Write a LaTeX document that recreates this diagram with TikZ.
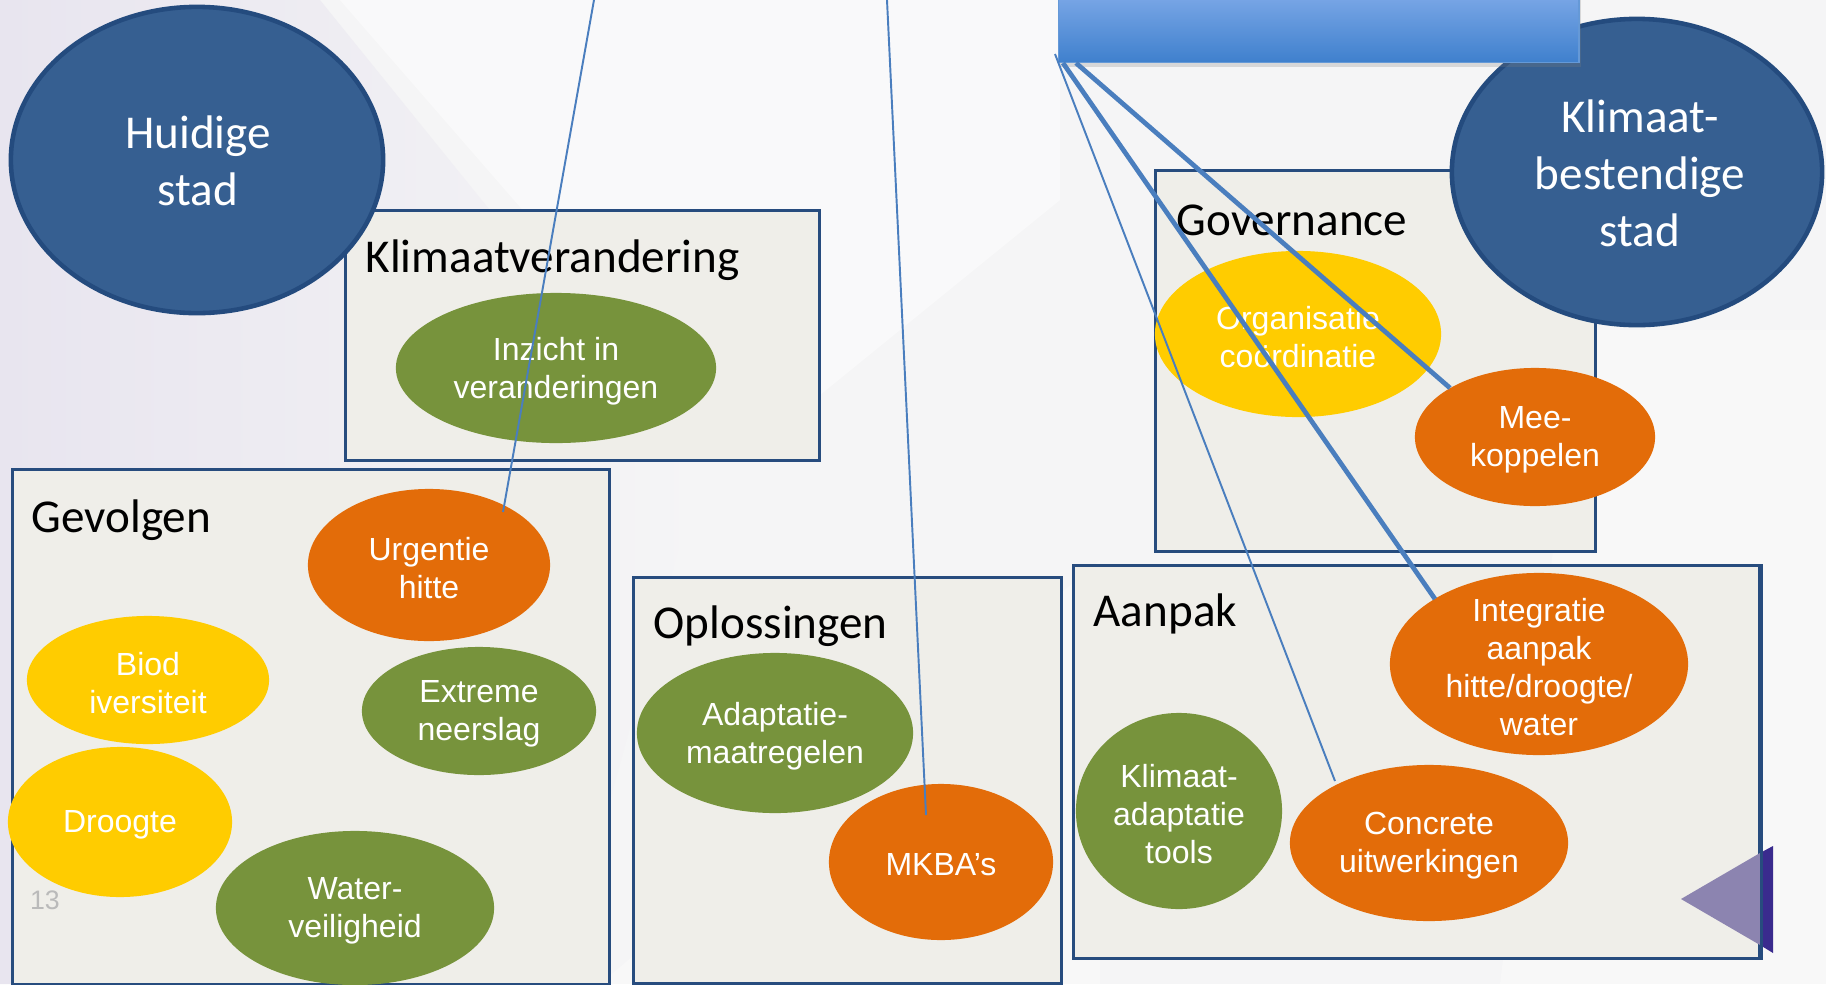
\documentclass[tikz,border=0pt]{standalone}
\usepackage{fontspec}
\setmainfont{Liberation Sans}
\newfontfamily\carl{Carlito}
\usetikzlibrary{shapes.geometric,calc,shadows}
\definecolor{bigblue}{HTML}{365F91}
\definecolor{bigedge}{HTML}{244B7E}
\definecolor{boxedge}{HTML}{274C7E}
\definecolor{boxfill}{HTML}{EFEEE9}
\definecolor{grn}{HTML}{77933C}
\definecolor{org}{HTML}{E36C09}
\definecolor{yel}{HTML}{FFCC00}
\definecolor{lnk}{HTML}{4A7EBE}
\definecolor{lav}{HTML}{E8E5EF}
\definecolor{pale}{HTML}{F5F5F6}
\definecolor{hdrtop}{HTML}{8EB4EF}
\definecolor{hdrbot}{HTML}{3F80CD}
\definecolor{tril}{HTML}{8C84B0}
\definecolor{trid}{HTML}{3A2B8E}
\tikzset{
  blob/.style 2 args={ellipse, inner sep=0pt, outer sep=0pt, minimum width=#1*0.02cm, minimum height=#2*0.02cm},
  lbl/.style={text=white, font=\fontsize{9.1}{10.8}\selectfont, align=center, inner sep=0pt, yshift=-0.03cm},
  biglbl/.style={text=white, font=\carl\fontsize{13.4}{16.2}\selectfont, align=center, inner sep=0pt},
  ttl/.style={font=\carl\fontsize{13.4}{16}\selectfont, anchor=west, inner sep=0pt, text=black},
  panel/.style 2 args={draw=boxedge, line width=0.9pt, fill=boxfill, anchor=north west, inner sep=0pt, minimum width=#1*0.01cm, minimum height=#2*0.01cm},
  bigcity/.style={fill=bigblue, draw=bigedge, line width=1.3pt},
  thinlink/.style={draw=lnk, line width=0.55pt},
  thicklink/.style={draw=lnk, line width=1.35pt},
}
\begin{document}
\begin{tikzpicture}[x=0.01cm, y=-0.01cm]
\useasboundingbox (0,0) rectangle (1826,984);
\clip (0,0) rectangle (1826,984);
% background
\fill[pale] (0,0) rectangle (1826,984);
\shade[left color=lav, right color=pale] (0,0) -- (320,0) -- (700,470) -- (560,984) -- (0,984) -- cycle;
\fill[white, opacity=0.45] (340,0) -- (1060,0) -- (1060,200) -- (740,460) -- cycle;
\fill[white, opacity=0.3] (1580,330) -- (1826,330) -- (1826,984) -- (1500,984) -- cycle;
\fill[white, opacity=0.3] (600,984) -- (1100,560) -- (1100,984) -- cycle;

% panels
\node[panel={474}{250}] (kv) at (344,209) {};
\node[panel={597}{515}] (gev) at (11,468) {};
\node[panel={428}{406}] (opl) at (632,576) {};
\node[panel={440}{381}] (gov) at (1154,169) {};
\node[panel={686}{393}] (aan) at (1072,564) {};

% titles
\node[ttl] (t-kv) at (365,260) {Klimaatverandering};
\node[ttl] (t-gev) at (31,520) {Gevolgen};
\node[ttl] (t-opl) at (653,626) {Oplossingen};
\node[ttl] (t-gov) at (1176,220) {Governance};
\node[ttl] (t-aan) at (1093,614) {Aanpak};

% Klimaatverandering
\node[blob={160}{75}, fill=grn] (inz) at (556,368) {};
\node[lbl] (l-inz) at (inz.center) {Inzicht in\\veranderingen};

% Gevolgen
\node[blob={121}{76}, fill=org] (urg) at (429,565) {};
\node[lbl] (l-urg) at (urg.center) {Urgentie\\hitte};
\node[blob={121}{64}, fill=yel] (bio) at (148,680) {};
\node[lbl] (l-bio) at (bio.center) {Biod\\iversiteit};
\node[blob={117}{64}, fill=grn] (ext) at (479,711) {};
\node[lbl] (l-ext) at (ext.center) {Extreme\\neerslag};
\node[blob={112}{75}, fill=yel] (dro) at (120,822) {};
\node[lbl] (l-dro) at (dro.center) {Droogte};
\node[blob={139}{77}, fill=grn] (wat) at (355,908) {};
\node[lbl] (l-wat) at (wat.center) {Water-\\veiligheid};
\node[text=black!27, font=\fontsize{7.6}{9}\selectfont, inner sep=0pt] (pg) at (45,900) {13};

% Oplossingen
\node[blob={138}{80}, fill=grn] (ada) at (775,733) {};
\node[lbl] (l-ada) at (ada.center) {Adaptatie-\\maatregelen};
\node[blob={112}{78}, fill=org] (mkba) at (941,862) {};
\node[lbl] (l-mkba) at (mkba.center) {MKBA’s};

% Governance
\node[blob={143}{83}, fill=yel] (orgc) at (1298,334) {};
\node[lbl] (l-orgc) at (orgc.center) {Organisatie\\coördinatie};
\node[blob={120}{69}, fill=org] (mee) at (1535,437) {};
\node[lbl] (l-mee) at (mee.center) {Mee-\\koppelen};

% Aanpak
\node[blob={149}{91}, fill=org] (int) at (1539,664) {};
\node[lbl] (l-int) at (int.center) {Integratie\\aanpak\\hitte/droogte/\\water};
\node[blob={103}{98}, fill=grn] (kat) at (1179,811) {};
\node[lbl] (l-kat) at (kat.center) {Klimaat-\\adaptatie\\tools};
\node[blob={139}{78}, fill=org] (con) at (1429,843) {};
\node[lbl] (l-con) at (con.center) {Concrete\\uitwerkingen};

% big city ellipses
\node[blob={186}{153}, bigcity] (hui) at (197,160) {};
\node[biglbl] (l-hui) at (198,161) {Huidige\\stad};
\node[blob={185}{153}, bigcity] (kbs) at (1637,172) {};
\node[biglbl] (l-kbs) at (1640,173) {Klimaat-\\bestendige\\stad};

% header bar
\node[anchor=south west, inner sep=0pt, minimum width=5.2cm, minimum height=0.9cm,
      top color=hdrtop, bottom color=hdrbot, draw=hdrbot!80!white, line width=0.4pt,
      drop shadow={shadow xshift=0.5pt, shadow yshift=-1.2pt, opacity=0.25}] (hdr) at (1058,63) {};

% connectors
\coordinate (a1) at (594,0);
\coordinate (a2) at (887,0);
\draw[thinlink] (a1) -- ($(urg.center)+(74,-53)$);
\draw[thinlink] (a2) -- ($(mkba.center)+(-15,-47)$);
\coordinate (h1) at ($(hdr.south west)+(-3,-9)$);
\coordinate (h2) at ($(hdr.south west)+(5,0)$);
\coordinate (h3) at ($(hdr.south west)+(18,0)$);
\draw[thinlink] (h1) -- ($(con.center)+(-94,-62)$);
\draw[thicklink] (h2) -- ($(int.center)+(-104,-65)$);
\draw[thicklink] (h3) -- ($(mee.center)+(-85,-49)$);

% corner triangle
\fill[tril] (1681,899) -- (1760,853) -- (1760,945) -- cycle;
\fill[trid] (1760,853) -- (1773,846) -- (1773,953) -- (1760,945) -- cycle;
\draw[boxedge, line width=0.9pt] (aan.north east) -- (aan.south east);
\end{tikzpicture}
\end{document}
